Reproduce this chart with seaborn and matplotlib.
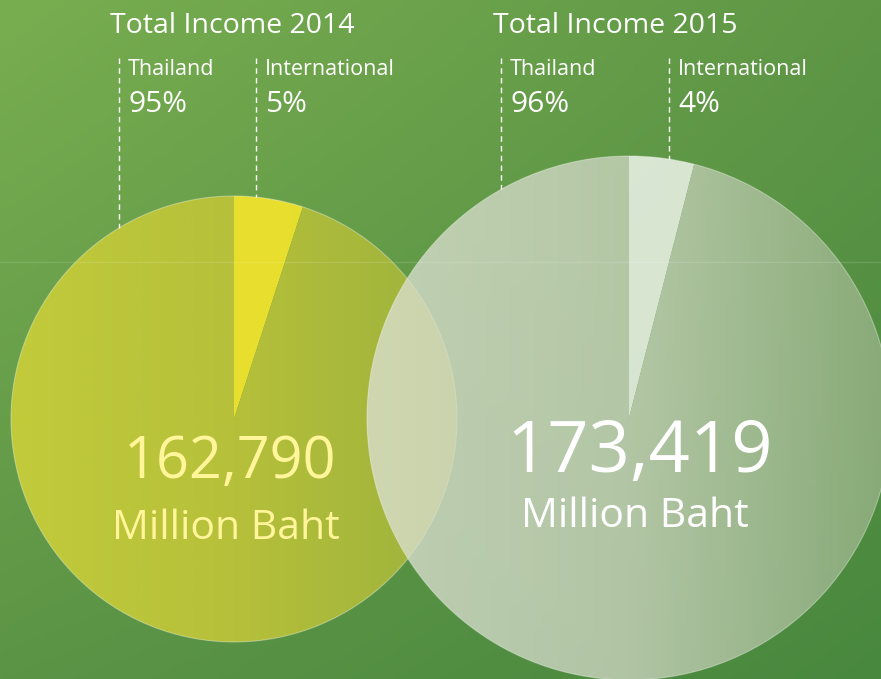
import numpy as np
import matplotlib.pyplot as plt
import seaborn as sns
from matplotlib.colors import LinearSegmentedColormap
from matplotlib.patches import Circle

# data
years = ["2014", "2015"]
totals = ["162,790", "173,419"]
segments = ["International", "Thailand"]
international_pct = [5, 4]
thailand_pct = [95, 96]

sns.set_theme(style="white")
plt.rcParams['font.family'] = ['Open Sans', 'DejaVu Sans']

W, H = 881, 679
fig = plt.figure(figsize=(W / 100, H / 100), dpi=100)
ax = fig.add_axes([0, 0, 1, 1])

# green background, lighter at top-left
tl, tr = np.array([121, 174, 80]), np.array([94, 150, 70])
bl, br = np.array([92, 148, 70]), np.array([72, 136, 62])
u = np.linspace(0, 1, 200)[None, :, None]
v = np.linspace(0, 1, 160)[:, None, None]
bg = (1 - v) * ((1 - u) * tl + u * tr) + v * ((1 - u) * bl + u * br)
ax.imshow(bg / 255, extent=(0, W, 0, H), origin="upper", aspect="auto", zorder=0)

# pie layout (pixels, y measured from the bottom)
centers = [(234, H - 419), (629, H - 418)]
radii = [223, 262]
slice_colors = [
    {"International": ["#ece22c", "#e4dc2e"],
     "Thailand": ["#c2cb3a", "#b6c03a", "#9cb23d"]},
    {"International": ["#ffffff", "#fbfcf8"],
     "Thailand": ["#dde1d3", "#ced6c2", "#98b387"]},
]
slice_alpha = [1.0, 0.78]
text_colors = ["#fff59a", "white"]

for i in range(2):
    cx, cy = centers[i]
    r = radii[i]
    wedges, _ = ax.pie([international_pct[i], thailand_pct[i]], center=(cx, cy),
                       radius=r, startangle=90, counterclock=False, frame=True,
                       wedgeprops=dict(facecolor="none", edgecolor="none"))
    for w, seg in zip(wedges, segments):
        cmap = LinearSegmentedColormap.from_list(seg + years[i], slice_colors[i][seg])
        im = ax.imshow(np.linspace(0, 1, 256)[None, :], cmap=cmap,
                       extent=(cx - r, cx + r, cy - r, cy + r), aspect="auto",
                       alpha=slice_alpha[i], zorder=2 + i)
        im.set_clip_path(w)
    ax.add_patch(Circle((cx, cy), r, fill=False, edgecolor=(1, 1, 1, 0.35),
                        lw=0.8, zorder=2 + i))

# headings, labels and dashed leader lines
title_x = [110, 493]
label_x = [[256, 119], [669, 501]]
for i in range(2):
    cx, cy = centers[i]
    r = radii[i]
    ax.text(title_x[i], H - 33, "Total Income " + years[i], color="white",
            fontsize=20.5, ha="left", va="baseline", zorder=6)
    pcts = [international_pct[i], thailand_pct[i]]
    for j, seg in enumerate(segments):
        x = label_x[i][j]
        ax.text(x + 9, H - 75, seg, color="white", fontsize=15.5,
                ha="left", va="baseline", zorder=6)
        ax.text(x + 9, H - 112, f"{pcts[j]}%", color="white", fontsize=21.5,
                ha="left", va="baseline", zorder=6)
        y_edge = cy + np.sqrt(r ** 2 - (x - cx) ** 2)
        ax.plot([x, x], [H - 58, y_edge], color="white", lw=1,
                ls=(0, (4, 3)), zorder=6)

ax.text(230, H - 478, totals[0], color=text_colors[0], fontsize=41.5,
        ha="center", va="baseline", zorder=6)
ax.text(226, H - 539, "Million Baht", color=text_colors[0], fontsize=29.5,
        ha="center", va="baseline", zorder=6)
ax.text(640, H - 472, totals[1], color=text_colors[1], fontsize=52,
        ha="center", va="baseline", zorder=6)
ax.text(635, H - 527, "Million Baht", color=text_colors[1], fontsize=29.5,
        ha="center", va="baseline", zorder=6)

# faint horizontal rule
ax.axhline(H - 262, color="white", alpha=0.12, lw=1, zorder=5)

ax.set_xlim(0, W)
ax.set_ylim(0, H)
ax.set_aspect("auto")
ax.axis("off")

fig.savefig("out.png", dpi=100)
